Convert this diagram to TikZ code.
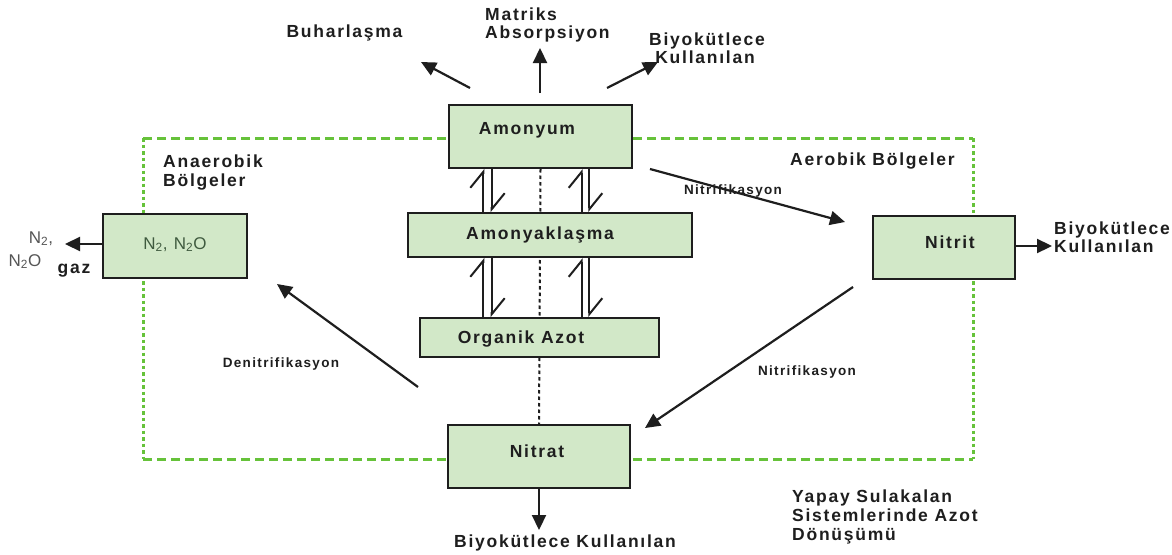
\documentclass[tikz,border=0pt]{standalone}
\usepackage{fontspec}
\setmainfont{Liberation Sans}[LetterSpace=10]
\usetikzlibrary{arrows.meta,backgrounds,calc}
\definecolor{boxfill}{HTML}{D2E8C8}
\definecolor{zone}{HTML}{66C23A}
\definecolor{ink}{HTML}{1E1E1E}
\definecolor{gasink}{HTML}{555555}
\definecolor{boxgas}{HTML}{3F5A3F}
\begin{document}
\begin{tikzpicture}[x=1pt,y=-1pt,
  box/.style={draw=ink,line width=2pt,fill=boxfill,inner sep=0pt},
  lbl/.style={font=\fontsize{17.5}{20}\selectfont\bfseries,text=ink,inner sep=0pt},
  small/.style={font=\fontsize{13.5}{16}\selectfont\bfseries,text=ink,inner sep=0pt},
  gas/.style={font=\fontsize{17}{19}\selectfont,inner sep=0pt},
  flow/.style={draw=ink,line width=2.2pt,-{Triangle[length=15pt,width=14pt]}},
  half/.style={draw=ink,line width=2pt,-{Straight Barb[left,length=16pt,width=26pt]}},
  zoneh/.style={draw=zone,line width=3pt,dash pattern=on 9pt off 5pt},
  zonev/.style={draw=zone,line width=3pt,dash pattern=on 3.5pt off 3pt},
  axis/.style={draw=ink,line width=2pt,dash pattern=on 3.5pt off 3pt},
]
\useasboundingbox (0,0) rectangle (1172,554);

% boxes
\node[box,minimum width=183pt,minimum height=63pt] (amon) at (540.5,136.5) {};
\node[box,minimum width=284pt,minimum height=44pt] (amyk) at (550,235) {};
\node[box,minimum width=239pt,minimum height=39pt] (org) at (539.5,337.5) {};
\node[box,minimum width=182pt,minimum height=63pt] (nitrat) at (539,456.5) {};
\node[box,minimum width=142pt,minimum height=63pt] (nitrit) at (944,247.5) {};
\node[box,minimum width=144pt,minimum height=64pt] (ntwo) at (175,246) {};

% box texts
\node[lbl,anchor=base] (tamon) at (527,134) {Amonyum};
\node[lbl,anchor=base] (tamyk) at (540,239) {Amonyaklaşma};
\node[lbl,anchor=base] (torg) at (521,343) {Organik Azot};
\node[lbl,anchor=base] (tnitrat) at (537,457) {Nitrat};
\node[lbl,anchor=base] (tnitrit) at (950,248) {Nitrit};
\node[gas,text=boxgas,anchor=base] (tntwo) at (175,249) {N\textsubscript{2}, N\textsubscript{2}O};

% background: zone and axis
\begin{pgfonlayer}{background}
\fill[white] (0,0) rectangle (1172,554);
\coordinate (z1) at (143,138);
\coordinate (z2) at (973,138);
\coordinate (z3) at (973,459);
\coordinate (z4) at (143,459);
\draw[zoneh] (z1) -- (z2);
\draw[zoneh] (z4) -- (z3);
\draw[zonev] (z1) -- (z4);
\draw[zonev] (z2) -- (z3);
\draw[axis] (amon.south) -- (nitrat.north);
\end{pgfonlayer}

% half arrows (reversible reactions)
\coordinate (xa) at (483.3,0);
\coordinate (xb) at (491.7,0);
\coordinate (xc) at (581.7,0);
\coordinate (xd) at (589.3,0);
\draw[half] (amyk.north -| xa) -- (amon.south -| xa);
\draw[half] (amon.south -| xb) -- (amyk.north -| xb);
\draw[half] (amyk.north -| xc) -- (amon.south -| xc);
\draw[half] (amon.south -| xd) -- (amyk.north -| xd);
\draw[half] (org.north -| xa) -- (amyk.south -| xa);
\draw[half] (amyk.south -| xb) -- (org.north -| xb);
\draw[half] (org.north -| xc) -- (amyk.south -| xc);
\draw[half] (amyk.south -| xd) -- (org.north -| xd);

% top arrows
\coordinate (bs) at (470,88);
\coordinate (bt) at (421,62);
\coordinate (ms) at (540,93);
\coordinate (mt) at (540,48);
\coordinate (ks) at (607,88);
\coordinate (kt) at (658,62);
\draw[flow] (bs) -- (bt);
\draw[flow] (ms) -- (mt);
\draw[flow] (ks) -- (kt);
\node[lbl,anchor=base] (buhar) at (344.5,37.5) {Buharlaşma};
\node[lbl,anchor=base west] (matr) at (485,20.5) {Matriks};
\node[lbl,anchor=base west] (absor) at (485,38.5) {Absorpsiyon};
\node[lbl,anchor=base] (bio1a) at (707,45.5) {Biyokütlece};
\node[lbl,anchor=base] (bio1b) at (705,63.5) {Kullanılan};

% zones
\node[lbl,anchor=base west] (anae1) at (163,167.5) {Anaerobik};
\node[lbl,anchor=base west] (anae2) at (163,186.5) {Bölgeler};
\node[lbl,anchor=base west] (aero) at (790,165.5) {Aerobik Bölgeler};

% nitrification / denitrification
\coordinate (n1s) at (650,169);
\coordinate (n1t) at (845,222);
\draw[flow] (n1s) -- (n1t);
\node[small,anchor=base] (nitr1) at (733,194.3) {Nitrifikasyon};
\coordinate (n2s) at (853,287);
\coordinate (n2t) at (645,428);
\draw[flow] (n2s) -- (n2t);
\node[small,anchor=base] (nitr2) at (807,375) {Nitrifikasyon};
\coordinate (ds) at (418,387);
\coordinate (dt) at (277,284);
\draw[flow] (ds) -- (dt);
\node[small,anchor=base] (denit) at (281,367.6) {Denitrifikasyon};

% nitrit output
\coordinate (nrt) at (1052,246);
\draw[flow] (nitrit.east |- nrt) -- (nrt);
\node[lbl,anchor=base west] (bio2a) at (1054,234.5) {Biyokütlece};
\node[lbl,anchor=base west] (bio2b) at (1054,252.5) {Kullanılan};

% N2 output
\coordinate (gt) at (65,244);
\draw[flow] (ntwo.west |- gt) -- (gt);
\node[gas,text=gasink,anchor=base] (g1) at (41,243) {N\textsubscript{2},};
\node[gas,text=gasink,anchor=base] (g2) at (25,266) {N\textsubscript{2}O};
\node[lbl,anchor=base] (g3) at (74,273) {gaz};

% nitrat output
\coordinate (nbt) at (539,530);
\draw[flow] (nitrat.south) -- (nbt);
\node[lbl,anchor=base] (bio3) at (565,547.5) {Biyokütlece Kullanılan};

% title
\node[lbl,anchor=base west] (t1) at (792,502.5) {Yapay Sulakalan};
\node[lbl,anchor=base west] (t2) at (792,521.5) {Sistemlerinde Azot};
\node[lbl,anchor=base west] (t3) at (792,540.5) {Dönüşümü};
\end{tikzpicture}
\end{document}
